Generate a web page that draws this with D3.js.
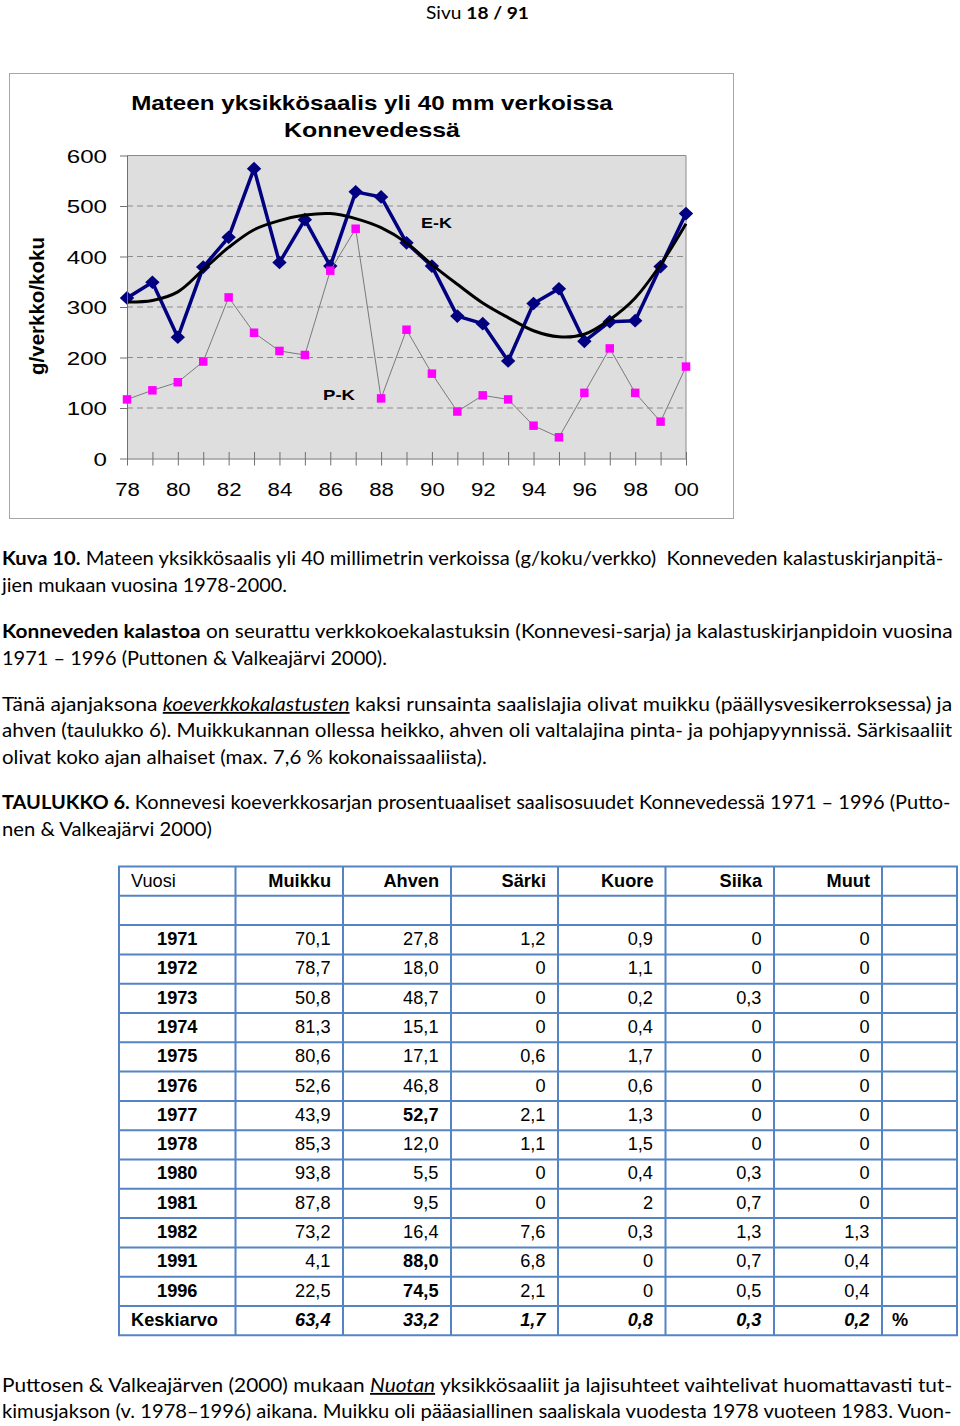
<!DOCTYPE html>
<html><head><meta charset="utf-8">
<script src="https://cdn.jsdelivr.net/npm/d3@7"></script>
<style>body{margin:0;background:#fff} svg{display:block} text{white-space:pre}</style>
</head><body>
<svg id="page" width="960" height="1426"></svg>
<script>
// ---------- chart data ----------
const years = ["78","79","80","81","82","83","84","85","86","87","88","89","90","91","92","93","94","95","96","97","98","99","00"];
const ekValues = [318,349,240,379,438,574,388,473,381,528,518,427,381,282,267,193,307,336,232,271,273,380,485];
const pkValues = [117,135,151,192,319,249,213,205,372,455,119,255,168,93,125,117,65,42,130,218,130,73,182];
const trendValues = [310,313,330,374,418,453,471,482,485,475,457,427,384,345,308,279,253,241,246,275,318,384,465];
const yTicks = [0,100,200,300,400,500,600];
const gridTicks = [100,200,300,400,500];
const xTickLabels = ["78","80","82","84","86","88","90","92","94","96","98","00"];
const chartTitle = ["Mateen yksikkösaalis yli 40 mm verkoissa","Konnevedessä"];
const yAxisTitle = "g/verkko/koku";

// ---------- table data ----------
const tableColumns = ["Vuosi","Muikku","Ahven","Särki","Kuore","Siika","Muut"];
const tableYears = ["1971","1972","1973","1974","1975","1976","1977","1978","1980","1981","1982","1991","1996"];
const muikku = ["70,1","78,7","50,8","81,3","80,6","52,6","43,9","85,3","93,8","87,8","73,2","4,1","22,5"];
const ahven  = ["27,8","18,0","48,7","15,1","17,1","46,8","52,7","12,0","5,5","9,5","16,4","88,0","74,5"];
const sarki  = ["1,2","0","0","0","0,6","0","2,1","1,1","0","0","7,6","6,8","2,1"];
const kuore  = ["0,9","1,1","0,2","0,4","1,7","0,6","1,3","1,5","0,4","2","0,3","0","0"];
const siika  = ["0","0","0,3","0","0","0","0","0","0,3","0,7","1,3","0,7","0,5"];
const muut   = ["0","0","0","0","0","0","0","0","0","0","1,3","0,4","0,4"];
const keskiarvo = ["63,4","33,2","1,7","0,8","0,3","0,2"];
const boldAhvenYears = ["1977","1991","1996"];

const svg = d3.select("#page");
const ARIAL = "'Liberation Sans', Arial, sans-serif";
const BODY = "Lato, 'Open Sans', sans-serif";

// stretch text horizontally to a target width
function fit(textSel, target) {
  const w = textSel.node().getComputedTextLength();
  return target / w;
}

// ---------- page header ----------
(function(){
  const g = svg.append("g").attr("transform","translate(426,18.5)");
  const t = g.append("text").attr("font-family",BODY).attr("font-size",17.5);
  t.append("tspan").text("Sivu ");
  t.append("tspan").attr("font-weight","bold").text("18 / 91");
  t.attr("transform",`scale(${fit(t,103)},1)`);
})();

// ---------- chart ----------
svg.append("rect").attr("x",9.5).attr("y",73.5).attr("width",724).attr("height",445)
  .attr("fill","#fff").attr("stroke","#a6a6a6").attr("stroke-width",1);

const x = d3.scalePoint().domain(years).range([127, 686]);
const y = d3.scaleLinear().domain([0,600]).range([458.5, 155.5]);

const plot = svg.append("g");
plot.append("rect").attr("x",x("78")).attr("y",y(600)).attr("width",x("00")-x("78")).attr("height",y(0)-y(600))
  .attr("fill","#dedede");
plot.selectAll("line.grid").data(gridTicks).join("line").attr("class","grid")
  .attr("x1",x("78")).attr("x2",x("00")).attr("y1",d=>y(d)).attr("y2",d=>y(d))
  .attr("stroke","#8c8c8c").attr("stroke-width",1).attr("stroke-dasharray","6,4");
// top and right border
plot.append("path").attr("d",`M${x("78")},${y(600)}H${x("00")}V${y(0)}`)
  .attr("fill","none").attr("stroke","#8a8a8a").attr("stroke-width",1);

// axes
const yAxis = svg.append("g").attr("transform",`translate(${x("78")},0)`)
  .call(d3.axisLeft(y).tickValues(yTicks).tickSize(7).tickSizeOuter(0));
yAxis.select(".domain").attr("stroke","#707070");
yAxis.selectAll(".tick line").attr("stroke","#707070");
yAxis.selectAll(".tick text").attr("font-family",ARIAL).attr("font-size",19).attr("fill","#000")
  .attr("x",0).attr("dy",null).attr("text-anchor","end")
  .attr("transform","translate(-20,6.7) scale(1.27,1)");

const xAxis = svg.append("g").attr("transform",`translate(0,${y(0)})`)
  .call(d3.axisBottom(x).tickValues(years).tickSize(7).tickSizeOuter(0)
    .tickFormat(d => xTickLabels.includes(d) ? d : ""));
xAxis.select(".domain").attr("stroke","#707070");
xAxis.selectAll(".tick line").attr("stroke","#707070").attr("y1",-6.5).attr("y2",7);
xAxis.selectAll(".tick text").attr("font-family",ARIAL).attr("font-size",19).attr("fill","#000")
  .attr("y",0).attr("dy",null).attr("text-anchor","middle")
  .attr("transform","translate(0,37.3) scale(1.17,1)");

// series
const ekLine = d3.line().x((d,i)=>x(years[i])).y(d=>y(d));
plot.append("path").datum(ekValues).attr("d",ekLine)
  .attr("fill","none").attr("stroke","#000080").attr("stroke-width",3.5).attr("stroke-linejoin","round");
const diamond = { draw(ctx){ ctx.moveTo(0,-6.8); ctx.lineTo(7.2,0); ctx.lineTo(0,6.8); ctx.lineTo(-7.2,0); ctx.closePath(); } };
plot.selectAll("path.ek").data(ekValues).join("path").attr("class","ek")
  .attr("d",d3.symbol().type(diamond)())
  .attr("transform",(d,i)=>`translate(${x(years[i])},${y(d)})`)
  .attr("fill","#000080");

const trendLine = d3.line().x((d,i)=>x(years[i])).y(d=>y(d)).curve(d3.curveCatmullRom.alpha(0.5));
plot.append("path").datum(trendValues).attr("d",trendLine)
  .attr("fill","none").attr("stroke","#000").attr("stroke-width",3);

plot.append("path").datum(pkValues).attr("d",ekLine)
  .attr("fill","none").attr("stroke","#7a7a7a").attr("stroke-width",1);
plot.selectAll("path.pk").data(pkValues).join("path").attr("class","pk")
  .attr("d",d3.symbol().type(d3.symbolSquare).size(72)())
  .attr("transform",(d,i)=>`translate(${x(years[i])},${y(d)})`)
  .attr("fill","#ff00ff");

// series labels
function chartLabel(txt, cx, by, size, target){
  const g = svg.append("g").attr("transform",`translate(${cx},${by})`);
  const t = g.append("text").attr("font-family",ARIAL).attr("font-weight","bold").attr("font-size",size)
    .attr("text-anchor","middle").attr("fill","#000").text(txt);
  t.attr("transform",`scale(${fit(t,target)},1)`);
}
chartLabel("E-K", 436.5, 228, 15.5, 31);
chartLabel("P-K", 339, 400, 15.5, 32);
chartLabel(chartTitle[0], 372, 110, 19.5, 482);
chartLabel(chartTitle[1], 372, 137, 19.5, 176);

svg.append("text").attr("transform","translate(44,306) rotate(-90)")
  .attr("font-family",ARIAL).attr("font-weight","bold").attr("font-size",20.5)
  .attr("text-anchor","middle").attr("fill","#000").text(yAxisTitle);

// ---------- body text ----------
function bodyLine(xp, by, parts, target){
  const g = svg.append("g").attr("transform",`translate(${xp},${by})`);
  const t = g.append("text").attr("font-family",BODY).attr("font-size",18.5).attr("fill","#000");
  parts.forEach(p => {
    const ts = t.append("tspan").text(p.t);
    if (p.b) ts.attr("font-weight","bold");
    if (p.i) ts.attr("font-style","italic");
    if (p.u) ts.attr("text-decoration","underline");
  });
  t.attr("transform",`scale(${fit(t,target)},1)`);
}
bodyLine(2, 565, [{t:"Kuva 10.",b:1},{t:" Mateen yksikkösaalis yli 40 millimetrin verkoissa (g/koku/verkko)  Konneveden kalastuskirjanpitä-"}], 942);
bodyLine(2, 592, [{t:"jien mukaan vuosina 1978-2000."}], 285);
bodyLine(2, 638, [{t:"Konneveden kalastoa",b:1},{t:" on seurattu verkkokoekalastuksin (Konnevesi-sarja) ja kalastuskirjanpidoin vuosina"}], 951);
bodyLine(2, 665, [{t:"1971 – 1996 (Puttonen & Valkeajärvi 2000)."}], 385);
bodyLine(2, 711, [{t:"Tänä ajanjaksona "},{t:"koeverkkokalastusten",i:1,u:1},{t:" kaksi runsainta saalislajia olivat muikku (päällysvesikerroksessa) ja"}], 951);
bodyLine(2, 737, [{t:"ahven (taulukko 6). Muikkukannan ollessa heikko, ahven oli valtalajina pinta- ja pohjapyynnissä. Särkisaaliit"}], 951);
bodyLine(2, 764, [{t:"olivat koko ajan alhaiset (max. 7,6 % kokonaissaaliista)."}], 485);
bodyLine(2, 809, [{t:"TAULUKKO 6.",b:1},{t:" Konnevesi koeverkkosarjan prosentuaaliset saalisosuudet Konnevedessä 1971 – 1996 (Putto-"}], 949);
bodyLine(2, 836, [{t:"nen & Valkeajärvi 2000)"}], 210);
bodyLine(2, 1392, [{t:"Puttosen & Valkeajärven (2000) mukaan "},{t:"Nuotan",i:1,u:1},{t:" yksikkösaaliit ja lajisuhteet vaihtelivat huomattavasti tut-"}], 951);
bodyLine(2, 1418, [{t:"kimusjakson (v. 1978–1996) aikana. Muikku oli pääasiallinen saaliskala vuodesta 1978 vuoteen 1983. Vuon-"}], 951);

// ---------- table ----------
const colEdges = [119, 235.5, 343, 451, 558, 665.5, 774, 882, 957];
const rowTop = 866.5, rowH = 29.3, nRows = 16;
const tbl = svg.append("g");
const rowYs = d3.range(nRows+1).map(i => rowTop + i*rowH);
tbl.selectAll("line.h").data(rowYs).join("line").attr("class","h")
  .attr("x1",colEdges[0]-1).attr("x2",colEdges[8]+1).attr("y1",d=>d).attr("y2",d=>d)
  .attr("stroke","#5584c4").attr("stroke-width",2);
tbl.selectAll("line.v").data(colEdges).join("line").attr("class","v")
  .attr("x1",d=>d).attr("x2",d=>d).attr("y1",rowTop).attr("y2",rowYs[nRows])
  .attr("stroke","#5584c4").attr("stroke-width",2);

function cell(txt, xp, by, anchor, opts={}){
  tbl.append("text").attr("x",xp).attr("y",by).attr("text-anchor",anchor)
    .attr("font-family",ARIAL).attr("font-size",18.2).attr("fill","#000")
    .attr("font-weight",opts.b ? "bold" : null).attr("font-style",opts.i ? "italic" : null)
    .text(txt);
}
const baseHeader = 886.7;
cell(tableColumns[0], 131, baseHeader, "start");
tableColumns.slice(1).forEach((c,j) => cell(c, colEdges[j+2]-12, baseHeader, "end", {b:1}));
const cols = [muikku, ahven, sarki, kuore, siika, muut];
tableYears.forEach((yr,i) => {
  const by = 945 + i*rowH;
  cell(yr, (colEdges[0]+colEdges[1])/2, by, "middle", {b:1});
  cols.forEach((arr,j) => {
    const bold = (j===1 && boldAhvenYears.includes(yr));
    cell(arr[i], colEdges[j+2]-12.5, by, "end", {b:bold});
  });
});
const byK = 945 + tableYears.length*rowH;
cell("Keskiarvo", 131, byK, "start", {b:1});
keskiarvo.forEach((v,j) => cell(v, colEdges[j+2]-12.5, byK, "end", {b:1,i:1}));
cell("%", 892, byK, "start", {b:1});
</script>
</body></html>
